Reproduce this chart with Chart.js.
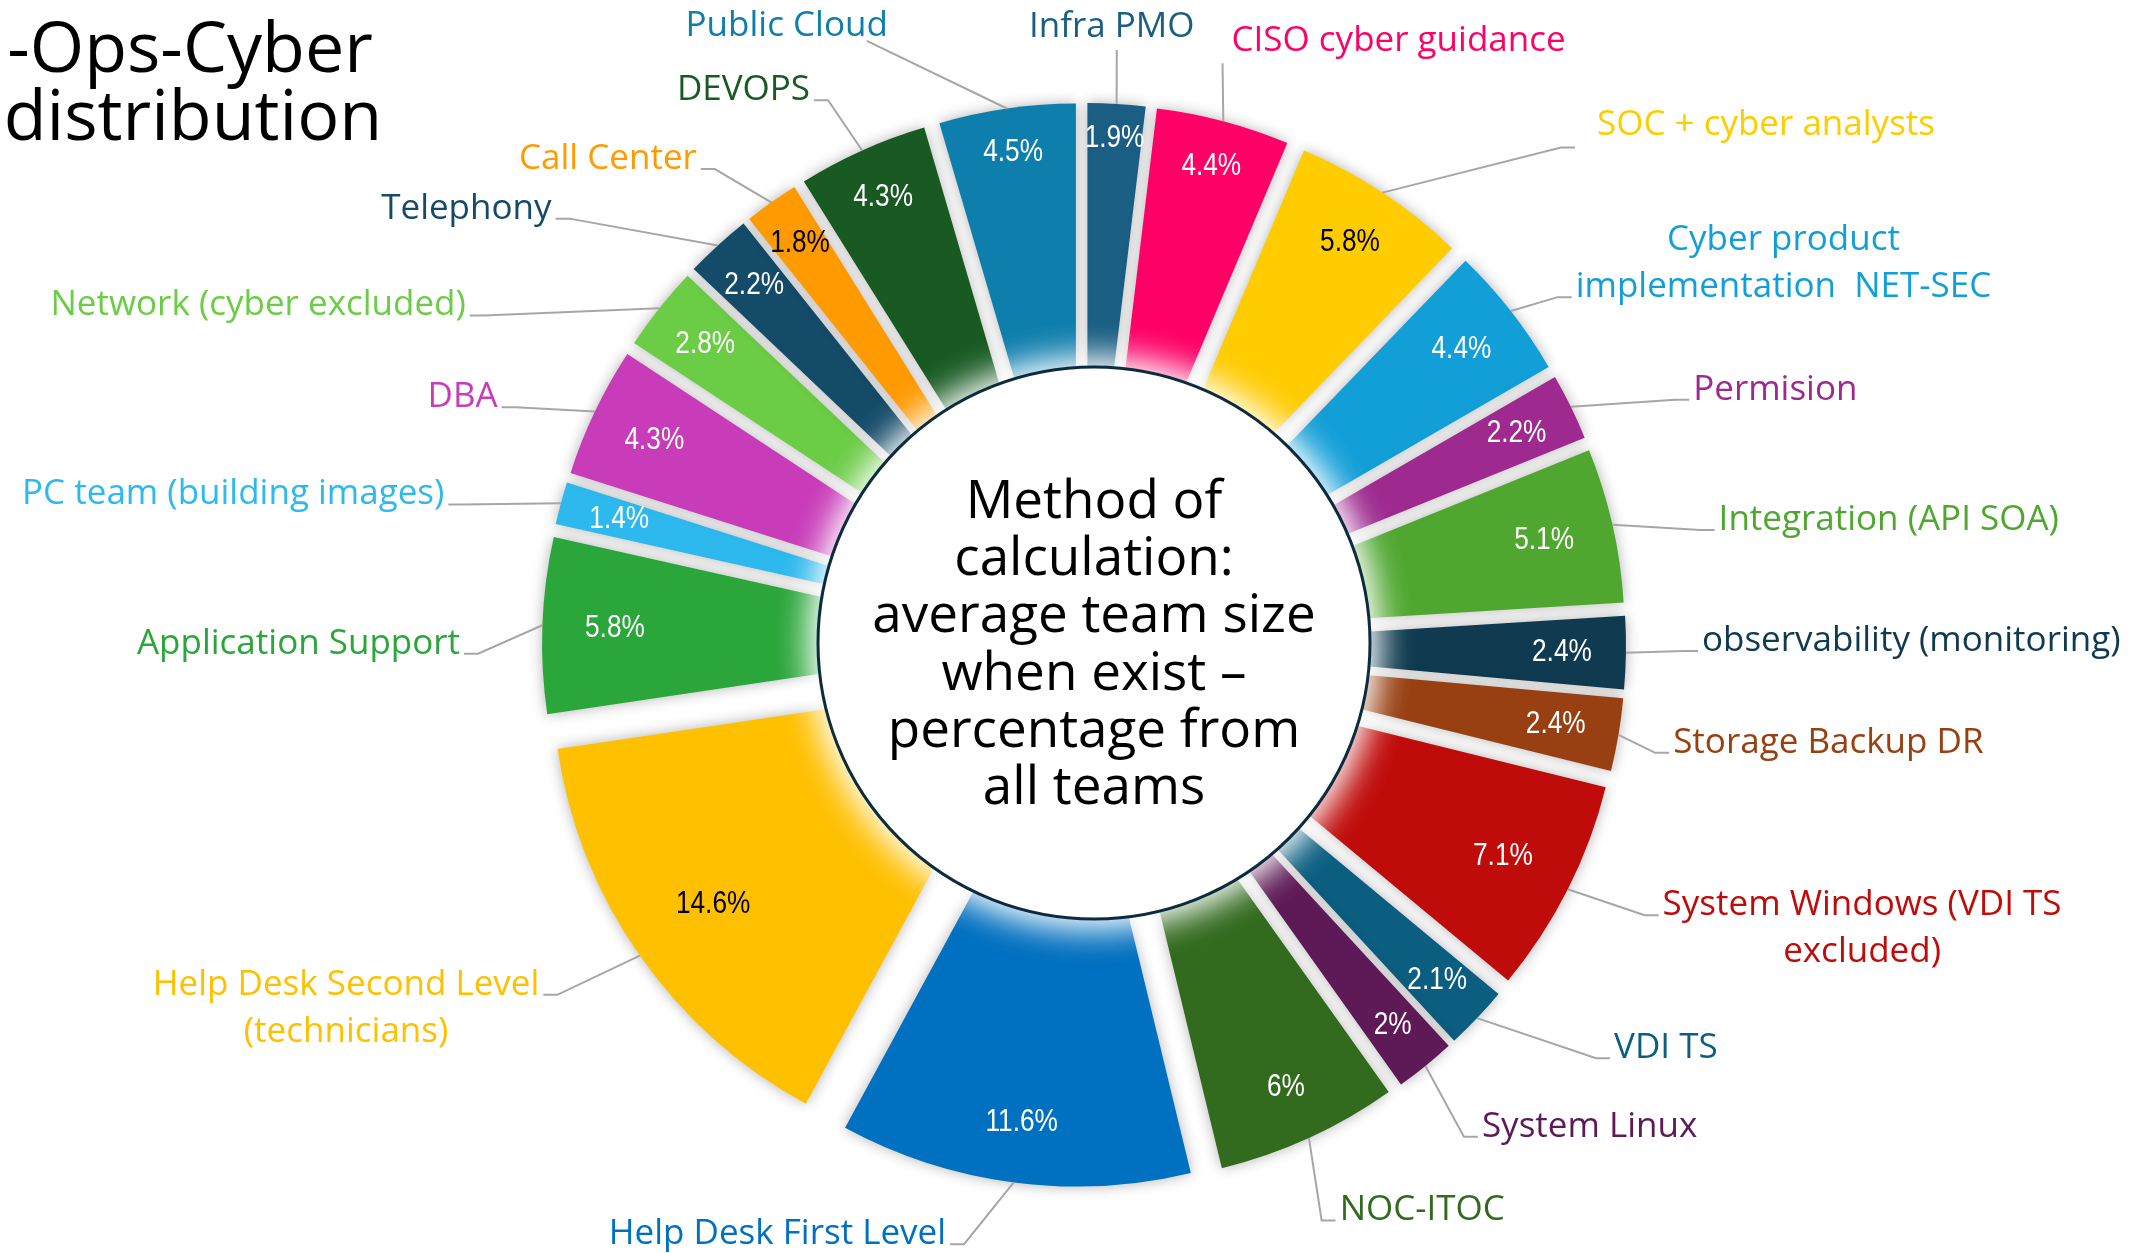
<!DOCTYPE html>
<html>
<head>
<meta charset="utf-8">
<title>-Ops-Cyber distribution</title>
<script src="https://cdn.jsdelivr.net/npm/chart.js@4.4.1/dist/chart.umd.min.js"></script>
<style>
    html, body { margin: 0; padding: 0; background: #fff; overflow: hidden; }
    #teamChart { display: block; }
</style>
</head>
<body>
<canvas id="teamChart" width="2133" height="1253"></canvas>
<script>
// team names as printed on the chart (\n = line break)
const teams = [
    'Infra PMO', 'CISO cyber guidance', 'SOC + cyber analysts',
    'Cyber product\nimplementation  NET-SEC', 'Permision', 'Integration (API SOA)',
    'observability (monitoring)', 'Storage Backup DR', 'System Windows (VDI TS\nexcluded)',
    'VDI TS', 'System Linux', 'NOC-ITOC', 'Help Desk First Level',
    'Help Desk Second Level\n(technicians)', 'Application Support', 'PC team (building images)',
    'DBA', 'Network (cyber excluded)', 'Telephony', 'Call Center', 'DEVOPS', 'Public Cloud'
];

// share of all teams, in percent
const shares = [1.9, 4.4, 5.8, 4.4, 2.2, 5.1, 2.4, 2.4, 7.1, 2.1, 2, 6, 11.6, 14.6, 5.8, 1.4, 4.3, 2.8, 2.2, 1.8, 4.3, 4.5];

const teamColors = [
    '#1A5E84', '#FF0066', '#FFCC00', '#129FD8', '#9E2A8F', '#4FA72F',
    '#0F3A4F', '#984012', '#C00B0B', '#0B5E80', '#5E1A56', '#326A1E',
    '#0070C0', '#FFC000', '#2AA63A', '#2EB9EE', '#C83CB9', '#6BCC46',
    '#144B69', '#FF9A00', '#185A22', '#0E7EAD'
];

// slices that get black percentage text
const darkTextTeams = ['SOC + cyber analysts', 'Help Desk Second Level\n(technicians)', 'Call Center'];

// where each team name sits: angle shift from the slice middle (deg) and distance from centre
const labelSpots = [
    { shift: -0.3, dist: 596, kind: 'top', align: 'center', dx: -5, dy: -13 },
    { shift: -1.5, dist: 598, kind: 'top', align: 'left', dx: 9, dy: -12 },
    { shift: 11.2, dist: 699, gap: 22, dy: -12 },
    { shift: 2.55, dist: 599, attach: 1 },
    { shift: 4.0, dist: 653 },
    { shift: 2.47, dist: 641 },
    { shift: -0.26, dist: 614 },
    { shift: 0.9, dist: 595 },
    { shift: -1.6, dist: 635 },
    { shift: -5.35, dist: 669 },
    { shift: 0.35, dist: 630 },
    { shift: 0.9, dist: 628 },
    { shift: 5.15, dist: 614 },
    { shift: 2.06, dist: 644 },
    { shift: -2.9, dist: 620 },
    { shift: -2.7, dist: 651 },
    { shift: -3.3, dist: 629 },
    { shift: -10.2, dist: 697 },
    { shift: -8.6, dist: 679 },
    { shift: -3.6, dist: 611 },
    { shift: -2.2, dist: 608 },
    { shift: -11.6, dist: 642, kind: 'top', align: 'right', dx: 21, dy: -5 }
];

const centerLines = ['Method of', 'calculation:', 'average team size', 'when exist \u2013', 'percentage from', 'all teams'];
const titleLines = ['-Ops-Cyber', 'distribution'];

const PUSH = 57;             // how far every slice is pulled out of the pie
const RADIUS = 485;
const LABEL_FONT = '35px "Open Sans", "Noto Sans", sans-serif';
const PCT_FONT = '32px "Liberation Sans", Arial, sans-serif';
const CIRCLE = { x: 1094, y: 643, r: 276 };

function pieCenter(chart) {
    const area = chart.chartArea;
    return { x: (area.left + area.right) / 2, y: (area.top + area.bottom) / 2 };
}

function drawNames(chart) {
    const ctx = chart.ctx;
    const arcs = chart.getDatasetMeta(0).data;
    const total = shares.reduce((a, b) => a + b, 0);
    const c = pieCenter(chart);

    arcs.forEach((arc, i) => {
        const mid = (arc.startAngle + arc.endAngle) / 2;
        const ux = Math.cos(mid);
        const uy = Math.sin(mid);

        // percentage inside the slice (narrow face: squeeze sideways)
        const inset = 28 + 30 * Math.abs(ux) + 250 * shares[i] / total;
        const d = PUSH + RADIUS - inset;
        ctx.save();
        ctx.translate(c.x + ux * d, c.y + uy * d);
        ctx.scale(0.82, 1);
        ctx.font = PCT_FONT;
        ctx.textAlign = 'center';
        ctx.textBaseline = 'middle';
        ctx.fillStyle = darkTextTeams.includes(teams[i]) ? '#000' : '#fff';
        ctx.fillText(shares[i] + '%', 0, 0);
        ctx.restore();

        // leader line
        const spot = labelSpots[i];
        const a = mid + spot.shift * Math.PI / 180;
        const qx = c.x + Math.cos(a) * spot.dist;
        const qy = c.y + Math.sin(a) * spot.dist;
        const ex = c.x + ux * (PUSH + RADIUS);
        const ey = c.y + uy * (PUSH + RADIUS);
        const left = qx < c.x;
        const kind = spot.kind || 'side';

        ctx.strokeStyle = '#A6A6A6';
        ctx.lineWidth = 2;
        ctx.beginPath();
        ctx.moveTo(ex, ey);
        if (kind === 'side') {
            ctx.lineTo(qx + (left ? 14 : -14), qy);
        }
        ctx.lineTo(qx, qy);
        ctx.stroke();

        // team name
        const lines = teams[i].split('\n');
        ctx.font = LABEL_FONT;
        ctx.textBaseline = 'alphabetic';
        ctx.textAlign = 'center';
        ctx.fillStyle = teamColors[i];
        const blockW = Math.max(...lines.map(t => ctx.measureText(t).width));
        const attach = spot.attach || 0;
        const baseY = qy + (spot.dy || 0);

        let midX;
        if (kind === 'side') {
            const gap = spot.gap || 4;
            midX = left ? qx - gap - blockW / 2 : qx + gap + blockW / 2;
        } else {
            const ax = qx + (spot.dx || 0);
            if (spot.align === 'left') midX = ax + blockW / 2;
            else if (spot.align === 'right') midX = ax - blockW / 2;
            else midX = ax;
        }
        lines.forEach((t, k) => {
            ctx.fillText(t, midX, baseY + (k - attach) * 47);
        });
    });
}

function drawCenter(ctx) {
    // soft white glow round the disc
    ctx.save();
    ctx.shadowColor = 'rgba(255,255,255,1)';
    ctx.shadowBlur = 40;
    ctx.fillStyle = '#fff';
    ctx.beginPath();
    ctx.arc(CIRCLE.x, CIRCLE.y, CIRCLE.r, 0, Math.PI * 2);
    ctx.fill();
    ctx.fill();
    ctx.restore();

    ctx.beginPath();
    ctx.arc(CIRCLE.x, CIRCLE.y, CIRCLE.r, 0, Math.PI * 2);
    ctx.fillStyle = '#fff';
    ctx.fill();
    ctx.lineWidth = 3;
    ctx.strokeStyle = '#0D2B3E';
    ctx.stroke();

    ctx.font = '53px "Open Sans", "Noto Sans", sans-serif';
    ctx.fillStyle = '#000';
    ctx.textAlign = 'center';
    ctx.textBaseline = 'alphabetic';
    centerLines.forEach((t, k) => {
        ctx.fillText(t, CIRCLE.x, 518 + k * 57.2);
    });
}

function drawTitle(ctx) {
    ctx.font = '70px "Open Sans", "Noto Sans", sans-serif';
    ctx.fillStyle = '#000';
    ctx.textAlign = 'center';
    ctx.textBaseline = 'alphabetic';
    ctx.fillText(titleLines[0], 190, 72);
    ctx.fillText(titleLines[1], 193, 140);
}

const sliceExtras = {
    id: 'sliceExtras',
    afterDatasetsUpdate(chart) {
        // explode the pie: move each slice out along its middle
        const c = pieCenter(chart);
        chart.getDatasetMeta(0).data.forEach(arc => {
            const mid = (arc.startAngle + arc.endAngle) / 2;
            arc.x = c.x + PUSH * Math.cos(mid);
            arc.y = c.y + PUSH * Math.sin(mid);
        });
    },
    beforeDatasetsDraw(chart) {
        const ctx = chart.ctx;
        ctx.save();
        ctx.shadowColor = 'rgba(0,0,0,0.3)';
        ctx.shadowBlur = 14;
    },
    afterDatasetsDraw(chart) {
        const ctx = chart.ctx;
        ctx.restore();
        drawCenter(ctx);
        drawNames(chart);
        drawTitle(ctx);
    }
};

const ctx = document.getElementById('teamChart').getContext('2d');

const teamChart = new Chart(ctx, {
    type: 'pie',
    data: {
        labels: teams,
        datasets: [{
            data: shares,
            backgroundColor: teamColors,
            borderWidth: 0
        }]
    },
    options: {
        responsive: false,
        animation: false,
        events: [],
        rotation: 0,
        radius: RADIUS,
        layout: {
            padding: { left: 35, right: 0, top: 37, bottom: 0 }
        },
        plugins: {
            legend: { display: false },
            tooltip: { enabled: false },
            title: { display: false }
        }
    },
    plugins: [sliceExtras]
});
</script>
</body>
</html>
